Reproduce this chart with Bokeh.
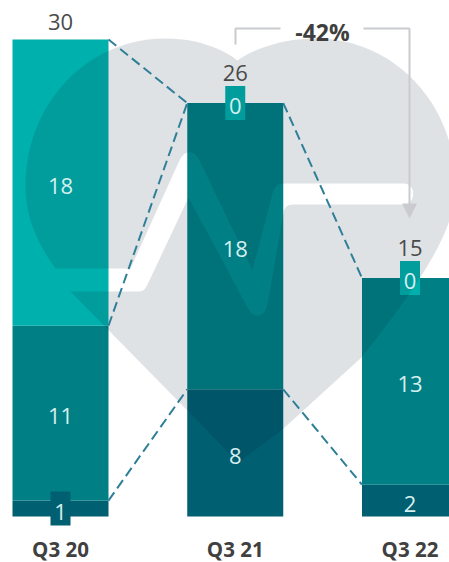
from bokeh.core.properties import value
from bokeh.embed import file_html
from bokeh.models import Range1d
from bokeh.plotting import figure
from bokeh.resources import INLINE

# Quarterly figures, stacked from the bottom up
quarters = ["Q3 20", "Q3 21", "Q3 22"]
dark = [1, 8, 2]
mid = [11, 18, 13]
light = [18, 0, 0]
totals = [30, 26, 15]
change_label = "-42%"

FONT = value("Open Sans")
DARK_C, MID_C, LIGHT_C = "#005F70", "#008085", "#00B0AC"
LABEL_C = "#D6EFEF"
TOTAL_C = "#4A4A4A"
BRACKET_C = "#C9CBCE"
CONNECT_C = "#2F7F98"

PX_PER_UNIT = 15.9
PX_PER_QUARTER = 174.75
FIRST_BAR_PX = 60
BASELINE_PX = 516
BAR_W = 96 / PX_PER_QUARTER
BOX_W = 20 / PX_PER_QUARTER
BOX_H = 34 / PX_PER_UNIT

xs = list(range(len(quarters)))
p = figure(
    width=449, height=562, output_backend="svg", toolbar_location=None,
    x_range=Range1d(-FIRST_BAR_PX / PX_PER_QUARTER, (449 - FIRST_BAR_PX) / PX_PER_QUARTER),
    y_range=Range1d(-(562 - BASELINE_PX) / PX_PER_UNIT, BASELINE_PX / PX_PER_UNIT),
    x_axis_type=None, y_axis_type=None,
    min_border_left=0, min_border_right=0, min_border_top=0, min_border_bottom=0,
    outline_line_color=None, background_fill_color="white", border_fill_color="white",
)
p.xgrid.visible = False
p.ygrid.visible = False

# Pixel-style coordinates for the decoration and the bracket
p.extra_x_ranges["px"] = Range1d(0, 449)
p.extra_y_ranges["px"] = Range1d(562, 0)

# Stacks
tops_dark = dark
tops_mid = [d + m for d, m in zip(dark, mid)]
tops_light = [t + l for t, l in zip(tops_mid, light)]
p.vbar(x=xs, width=BAR_W, bottom=0, top=tops_dark, fill_color=DARK_C, line_color=None)
p.vbar(x=xs, width=BAR_W, bottom=tops_dark, top=tops_mid, fill_color=MID_C, line_color=None)
p.vbar(x=xs, width=BAR_W, bottom=tops_mid, top=tops_light, fill_color=LIGHT_C, line_color=None)

# Tabs behind labels of segments too thin to hold them
for vals, bottoms, color in ((light, tops_mid, LIGHT_C), (dark, [0, 0, 0], DARK_C)):
    for x, v, b in zip(xs, vals, bottoms):
        if v <= 1:
            p.rect(x=[x], y=[b + v / 2], width=BOX_W, height=BOX_H, fill_color=color, line_color=None)


# Heart watermark with the pulse trace cut out of it
def cubic(a, b, c, d, n=24):
    pts = []
    for i in range(n + 1):
        t = i / n
        u = 1 - t
        pts.append((
            u**3 * a[0] + 3 * u*u*t * b[0] + 3 * u*t*t * c[0] + t**3 * d[0],
            u**3 * a[1] + 3 * u*u*t * b[1] + 3 * u*t*t * c[1] + t**3 * d[1],
        ))
    return pts


outline = [(238, 462), (70, 291), (139, 291)]
outline += cubic((139, 291), (143, 291), (145, 288), (147, 284), 6)
outline += [(188, 197), (247, 307)]
outline += cubic((247, 307), (252, 318), (263, 319), (267, 304), 10)
outline += [(283, 212)]
outline += cubic((283, 212), (284, 206), (287, 204), (293, 204), 6)
outline += [(403, 204)]
outline += cubic((403, 204), (416, 204), (416, 183), (403, 183), 10)
outline += [(284, 183)]
outline += cubic((284, 183), (277, 183), (274, 186), (272, 193), 6)
outline += [(252, 270), (199, 160)]
outline += cubic((199, 160), (194, 149), (184, 149), (179, 160), 10)
outline += [(130, 268), (55, 268)]
outline += cubic((55, 268), (35, 240), (25, 215), (25, 185), 14)
outline += cubic((25, 185), (25, 105), (85, 38), (165, 38))
outline += cubic((165, 38), (195, 38), (220, 47), (237, 60), 12)
outline += cubic((237, 60), (255, 47), (285, 38), (315, 38), 12)
outline += cubic((315, 38), (395, 38), (455, 105), (455, 185))
outline += cubic((455, 185), (455, 225), (430, 270), (361, 357))
outline += [(283, 428)]
p.patch([q[0] for q in outline], [q[1] for q in outline], fill_color="#001832", fill_alpha=0.125,
        line_color=None, x_range_name="px", y_range_name="px")

# Dashed connectors between neighbouring stacks
half = BAR_W / 2
for x0, y0, y1 in ((0, tops_light[0], tops_light[1]), (0, tops_mid[0], tops_light[1]), (0, dark[0], dark[1]),
                   (1, tops_light[1], tops_light[2]), (1, dark[1], dark[2])):
    p.line([x0 + half, x0 + 1 - half], [y0, y1], line_color=CONNECT_C, line_width=2, line_dash="10 5")


# Segment labels
def seg_labels(vals, bottoms):
    for x, v, b in zip(xs, vals, bottoms):
        if v == 0 and b == 0:
            continue
        p.text([x], [b + v / 2], text=[str(v)], text_font=FONT, text_font_size="22px", text_color=LABEL_C,
               text_align="center", text_baseline="middle", y_offset=3)


seg_labels(dark, [0, 0, 0])
seg_labels(mid, tops_dark)
seg_labels(light, tops_mid)

# Stack totals, lifted clear of a tab when there is one
for x, t, l in zip(xs, totals, light):
    p.text([x], [t], text=[str(t)], text_font=FONT, text_font_size="22px", text_color=TOTAL_C,
           text_align="center", text_baseline="middle", y_offset=-30 if l == 0 else -18)

# Quarter names under the stacks
p.text(xs, [0] * len(xs), text=quarters, text_font=FONT, text_font_style="bold", text_font_size="20.5px",
       text_color="#404040", text_align="center", text_baseline="middle", y_offset=32)

# Change bracket from the second stack down to the third
bracket = dict(line_color=BRACKET_C, line_width=2, x_range_name="px", y_range_name="px")
p.line([235, 235, 280], [44, 28, 28], **bracket)
p.line([363, 409, 409], [28, 28, 205], **bracket)
p.patch([401.5, 416.5, 409], [203, 203, 218], fill_color=BRACKET_C, line_color=None,
        x_range_name="px", y_range_name="px")
p.text([322], [31], text=[change_label], text_font=FONT, text_font_style="bold", text_font_size="23px",
       text_color="#3F3F3F", text_align="center", text_baseline="middle",
       x_range_name="px", y_range_name="px")

open("out.html", "w").write(file_html(p, INLINE))
